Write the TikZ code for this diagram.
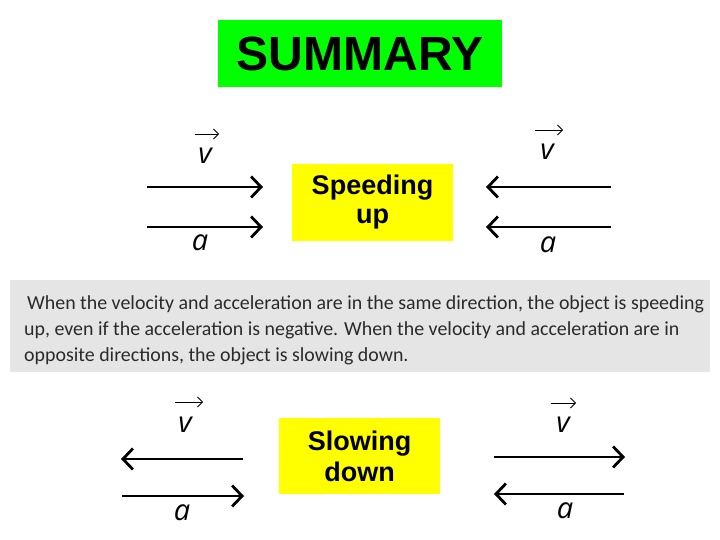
\documentclass[tikz,border=0pt]{standalone}
\usepackage{fontspec}
\setmainfont{Liberation Sans}
\newfontfamily\descfont{Carlito}
\newfontfamily\symfont{Open Sans}
\usetikzlibrary{arrows.meta}
\definecolor{sumgreen}{HTML}{00FF00}
\definecolor{boxyellow}{HTML}{FFFF00}
\definecolor{bandgray}{HTML}{E5E5E5}
\definecolor{desctext}{HTML}{2A2A2A}
\tikzset{
  vecarrow/.style={line width=2.8pt,-{Straight Barb[length=10pt,width=21pt,line width=2.8pt]}},
  labelbox/.style={fill=boxyellow,minimum width=161pt,minimum height=76pt,inner sep=0pt,font=\bfseries\fontsize{27}{31}\selectfont,align=center},
  sym/.style={font=\symfont\itshape\fontsize{29}{29}\selectfont,inner sep=0pt},
  overarr/.style={line width=0.8pt,-{Straight Barb[length=5pt,width=10pt,line width=0.8pt]}},
  descline/.style={anchor=base west,inner sep=0pt,font=\descfont\fontsize{19.9}{26}\selectfont,text=desctext}
}
\begin{document}
\begin{tikzpicture}[x=1pt,y=-1pt]
\useasboundingbox (0,0) rectangle (720,540);
\fill[white] (0,0) rectangle (720,540);
% title
\node[fill=sumgreen,minimum width=284pt,minimum height=67pt,inner sep=0pt,font=\bfseries\fontsize{48}{50}\selectfont] (title) at (360,53.5) {SUMMARY};
% speeding up
\node[labelbox] (speed) at (372.5,202.5) {\raisebox{-2pt}{Speeding}\\up};
% top-left arrows
\coordinate (tl1s) at (147,187); \coordinate (tl1e) at (263,187);
\coordinate (tl2s) at (147,227); \coordinate (tl2e) at (263,227);
\draw[vecarrow] (tl1s) -- (tl1e);
\draw[vecarrow] (tl2s) -- (tl2e);
\node[sym] (tlv) at (205,156) {v};
\coordinate (tlvs) at (195,134); \coordinate (tlve) at (219,134);
\draw[overarr] (tlvs) -- (tlve);
\node[sym] (tla) at (200,243) {a};
% top-right arrows
\coordinate (tr1s) at (611,187); \coordinate (tr1e) at (486,187);
\coordinate (tr2s) at (611,227); \coordinate (tr2e) at (486,227);
\draw[vecarrow] (tr1s) -- (tr1e);
\draw[vecarrow] (tr2s) -- (tr2e);
\node[sym] (trv) at (547,152) {v};
\coordinate (trvs) at (535,130); \coordinate (trve) at (563,130);
\draw[overarr] (trvs) -- (trve);
\node[sym] (tra) at (548,245) {a};
% gray band
\fill[bandgray] (10,280) rectangle (710,372);
\node[descline] (desc1) at (27,309) {When the velocity and acceleration are in the same direction, the object is speeding};
\node[descline] (desc2) at (24,335) {up, even if the acceleration is negative. When the velocity and acceleration are in};
\node[descline] (desc3) at (24,361) {opposite directions, the object is slowing down.};
% slowing down
\node[labelbox] (slow) at (359.5,456) {Slowing\\down};
% bottom-left
\coordinate (bl1s) at (243,459); \coordinate (bl1e) at (121,459);
\coordinate (bl2s) at (122,496); \coordinate (bl2e) at (244,496);
\draw[vecarrow] (bl1s) -- (bl1e);
\draw[vecarrow] (bl2s) -- (bl2e);
\node[sym] (blv) at (185,425) {v};
\coordinate (blvs) at (175,402); \coordinate (blve) at (203,402);
\draw[overarr] (blvs) -- (blve);
\node[sym] (bla) at (182,513) {a};
% bottom-right
\coordinate (br1s) at (494,457); \coordinate (br1e) at (625,457);
\coordinate (br2s) at (624,494); \coordinate (br2e) at (494,494);
\draw[vecarrow] (br1s) -- (br1e);
\draw[vecarrow] (br2s) -- (br2e);
\node[sym] (brv) at (563,425) {v};
\coordinate (brvs) at (551,403); \coordinate (brve) at (576,403);
\draw[overarr] (brvs) -- (brve);
\node[sym] (bra) at (565,511) {a};
\end{tikzpicture}
\end{document}
